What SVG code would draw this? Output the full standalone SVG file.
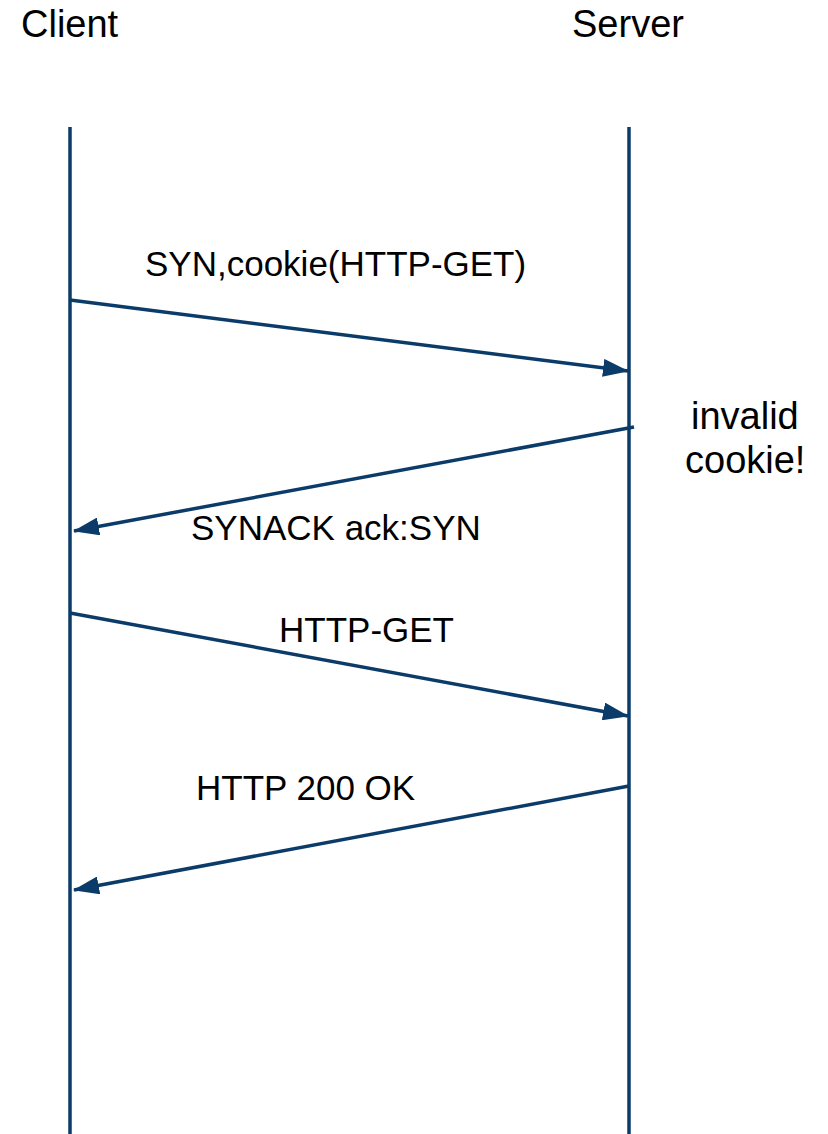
<svg xmlns="http://www.w3.org/2000/svg" width="828" height="1134" viewBox="0 0 828 1134">
<style>
.lbl{font-family:"Liberation Sans",Arial,sans-serif;fill:#000;}
.big{font-size:38px;}
.msg{font-size:35px;}
.life{stroke:#0b3b69;stroke-width:3.5;fill:none;}
.arr{stroke:#0b3b69;stroke-width:3.5;fill:none;marker-end:url(#ah);}
</style>
<defs>
<marker id="ah" markerUnits="userSpaceOnUse" markerWidth="26" markerHeight="18" refX="25" refY="9" orient="auto" viewBox="0 0 26 18">
<path d="M0,0 L26,9 L0,18 z" fill="#0b3b69"/>
</marker>
</defs>
<rect width="828" height="1134" fill="#fff"/>
<g id="client">
<text class="lbl big" x="21" y="37">Client</text>
<line class="life" x1="70" y1="127" x2="70" y2="1134"/>
</g>
<g id="server">
<text class="lbl big" x="572" y="37">Server</text>
<line class="life" x1="629" y1="127" x2="629" y2="1134"/>
</g>
<g id="note-invalid">
<text class="lbl big" x="691" y="429">invalid</text>
<text class="lbl big" x="685" y="473">cookie!</text>
</g>
<g id="connectors">
<line class="arr" x1="70" y1="300" x2="628" y2="371"/>
<line class="arr" x1="634" y1="427" x2="74" y2="531"/>
<line class="arr" x1="70" y1="613" x2="628" y2="716"/>
<line class="arr" x1="629" y1="786" x2="74" y2="890"/>
</g>
<g id="labels">
<text class="lbl msg" x="145" y="276">SYN,cookie(HTTP-GET)</text>
<text class="lbl msg" x="191" y="540">SYNACK ack:SYN</text>
<text class="lbl msg" x="279" y="642">HTTP-GET</text>
<text class="lbl msg" x="196" y="800">HTTP 200 OK</text>
</g>
</svg>
